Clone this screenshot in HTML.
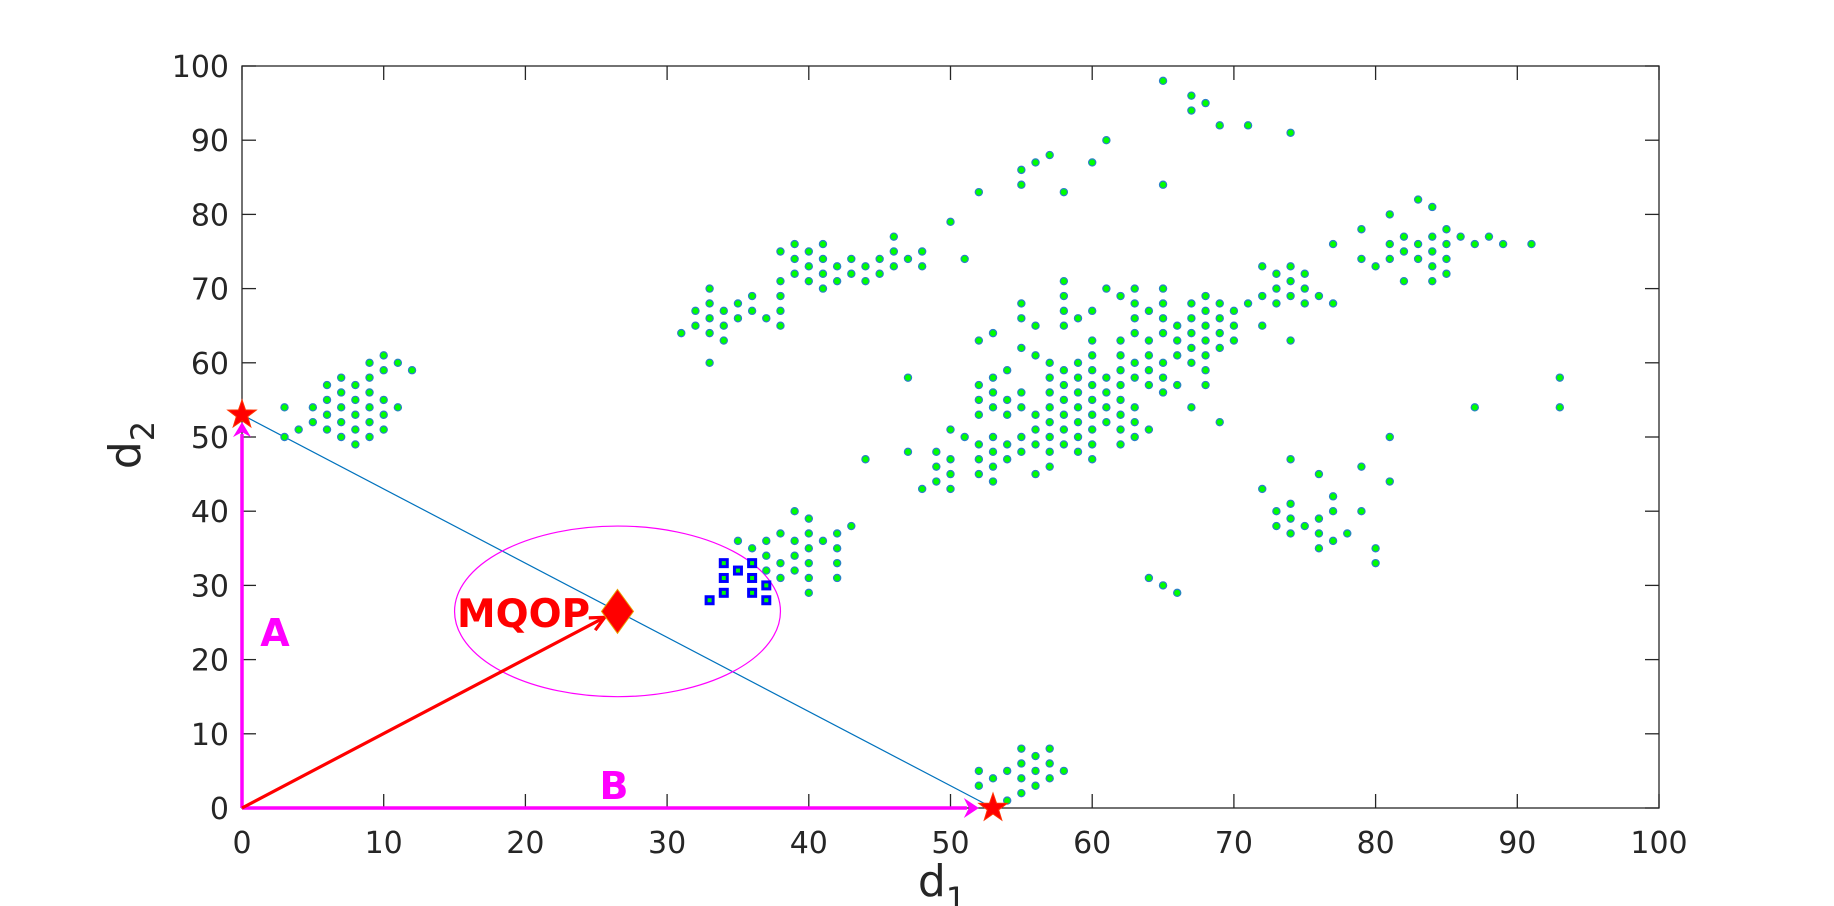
<!DOCTYPE html>
<html><head><meta charset="utf-8"><style>
html,body{margin:0;padding:0;background:#fff;}
svg{display:block;font-family:"DejaVu Sans","Liberation Sans",sans-serif;}
</style></head><body>
<svg id="chart" width="1834" height="906" viewBox="0 0 1834 906" xmlns="http://www.w3.org/2000/svg">
<rect x="0" y="0" width="1834" height="906" fill="#fff"/>
<g id="ticksG"></g>
<g id="overlayG"></g>
<g id="marksG"></g>
<g id="topG"></g>
<text x="942" y="896" font-size="44" fill="#262626" text-anchor="middle">d<tspan font-size="32" dy="14">1</tspan></text>
<text transform="translate(140,445) rotate(-90)" font-size="44" fill="#262626" text-anchor="middle">d<tspan font-size="32" dy="14">2</tspan></text>
</svg>
<script>
const xTicks = [0,10,20,30,40,50,60,70,80,90,100];
const yTicks = [0,10,20,30,40,50,60,70,80,90,100];
const greenPoints = [
[3,54],[3,50],[4,51],[5,54],[5,52],[6,57],[6,55],[6,53],[6,51],[7,58],[7,56],[7,54],[7,52],[7,50],[8,57],[8,55],[8,53],[8,51],[8,49],[9,60],[9,58],[9,56],[9,54],[9,52],[9,50],[10,61],[10,59],[10,55],[10,53],[10,51],[11,60],[11,54],[12,59],
[31,64],[32,67],[32,65],[33,70],[33,68],[33,66],[33,64],[33,60],[34,67],[34,65],[34,63],[35,68],[35,66],[36,69],[36,67],[37,66],[38,75],[38,71],[38,69],[38,67],[38,65],[39,76],[39,74],[39,72],[40,75],[40,73],[40,71],[41,76],[41,74],[41,72],[41,70],[42,73],[42,71],[43,74],[43,72],[44,73],[44,71],[45,74],[45,72],[46,77],[46,75],[46,73],[47,74],[48,75],[48,73],[50,79],[51,74],[47,58],[44,47],
[47,48],[48,43],[49,48],[49,46],[49,44],[50,51],[50,47],[50,45],[50,43],[51,50],[52,63],[52,57],[52,55],[52,53],[52,49],[52,47],[52,45],[53,64],[53,58],[53,56],[53,54],[53,50],[53,48],[53,46],[53,44],[54,59],[54,55],[54,53],[54,49],[54,47],[55,68],[55,66],[55,62],[55,56],[55,54],[55,50],[55,48],[56,65],[56,61],[56,53],[56,51],[56,49],[56,45],[57,60],[57,58],[57,56],[57,54],[57,52],[57,50],[57,48],[57,46],[58,71],[58,69],[58,67],[58,65],[58,59],[58,57],[58,55],[58,53],[58,51],[58,49],[59,66],[59,60],[59,58],[59,56],[59,54],[59,52],[59,50],[59,48],[60,67],[60,63],[60,61],[60,59],[60,57],[60,55],[60,53],[60,51],[60,49],[60,47],[61,70],[61,58],[61,56],[61,54],[61,52],
[62,69],[62,63],[62,61],[62,59],[62,57],[62,55],[62,53],[62,51],[62,49],[63,70],[63,68],[63,66],[63,64],[63,60],[63,58],[63,54],[63,52],[63,50],[64,67],[64,63],[64,61],[64,59],[64,57],[64,51],[65,70],[65,68],[65,66],[65,64],[65,60],[65,58],[65,56],[66,65],[66,63],[66,61],[66,57],[67,68],[67,66],[67,64],[67,62],[67,60],[67,54],[68,69],[68,67],[68,65],[68,63],[68,61],[68,59],[68,57],[69,68],[69,66],[69,64],[69,62],[69,52],[70,67],[70,65],[70,63],[71,68],[72,73],[72,69],[72,65],[73,72],[73,70],[73,68],[74,73],[74,71],[74,69],[74,63],[74,47],[75,72],[75,70],[75,68],[76,69],[77,68],
[77,76],[79,78],[79,74],[80,73],[81,80],[81,76],[81,74],[82,77],[82,75],[82,71],[83,82],[83,76],[83,74],[84,81],[84,77],[84,75],[84,73],[84,71],[85,78],[85,76],[85,74],[85,72],[86,77],[87,76],[87,54],[88,77],[89,76],[91,76],[93,58],[93,54],
[64,31],[65,30],[66,29],[72,43],[73,40],[73,38],[74,41],[74,39],[74,37],[75,38],[76,45],[76,39],[76,37],[76,35],[77,42],[77,40],[77,36],[78,37],[79,46],[79,40],[80,35],[80,33],[81,50],[81,44],
[35,36],[36,35],[37,36],[37,34],[37,32],[38,37],[38,33],[38,31],[39,40],[39,36],[39,34],[39,32],[40,39],[40,37],[40,35],[40,33],[40,31],[40,29],[41,36],[42,37],[42,35],[42,33],[42,31],[43,38],
[52,83],[55,86],[55,84],[56,87],[57,88],[58,83],[60,87],[61,90],[65,98],[65,84],[67,96],[67,94],[68,95],[69,92],[71,92],[74,91],
[52,5],[52,3],[53,4],[54,5],[54,1],[55,8],[55,6],[55,4],[55,2],[56,7],[56,5],[56,3],[57,8],[57,6],[57,4],[58,5]
];
const bluePoints = [[33,28],[34,33],[34,31],[34,29],[35,32],[36,33],[36,31],[36,29],[37,30],[37,28]];
const mqop = [26.5, 26.5];
const mqopRadius = 11.5;
const endA = [0, 53];
const endB = [53, 0];

const L=242, R=1659, T=66, B=808;
const sx = d => L + (R-L)*d/100;
const sy = d => B - (B-T)*d/100;
const NS='http://www.w3.org/2000/svg';
function mk(tag, attrs, parent){const e=document.createElementNS(NS,tag);for(const k in attrs)e.setAttribute(k,attrs[k]);parent.appendChild(e);return e;}
const gTicks=document.getElementById('ticksG'), gOv=document.getElementById('overlayG'), gMarks=document.getElementById('marksG'), gTop=document.getElementById('topG');

const frame = mk('rect',{x:L,y:T,width:R-L,height:B-T,fill:'none',stroke:'#262626','stroke-width':1.3},gTicks);


xTicks.forEach(v=>{
  const x=sx(v);
  const t1=mk('line',{x1:x,y1:B,x2:x,y2:B-14,stroke:'#262626','stroke-width':1.3},gTicks);
  
  
  const t2=mk('line',{x1:x,y1:T,x2:x,y2:T+14,stroke:'#262626','stroke-width':1.3},gTicks);
  
  
  const lb=mk('text',{x:x,y:853,'font-size':30,fill:'#262626','text-anchor':'middle'},gTicks);
  lb.textContent=v;
  
  
});
yTicks.forEach(v=>{
  const y=sy(v);
  const t1=mk('line',{x1:L,y1:y,x2:L+14,y2:y,stroke:'#262626','stroke-width':1.3},gTicks);
  
  
  const t2=mk('line',{x1:R,y1:y,x2:R-14,y2:y,stroke:'#262626','stroke-width':1.3},gTicks);
  
  
  const lb=mk('text',{x:229,y:y+11,'font-size':30,fill:'#262626','text-anchor':'end'},gTicks);
  lb.textContent=v;
  
  
});

const ln=mk('line',{x1:sx(endA[0]),y1:sy(endA[1]),x2:sx(endB[0]),y2:sy(endB[1]),stroke:'#0072BD','stroke-width':1.2},gOv);


const el=mk('ellipse',{cx:sx(mqop[0]),cy:sy(mqop[1]),rx:sx(mqopRadius)-sx(0),ry:sy(0)-sy(mqopRadius),fill:'none',stroke:'#ff00ff','stroke-width':1.2},gOv);



greenPoints.forEach(p=>{
  const c=mk('circle',{cx:sx(p[0]),cy:sy(p[1]),r:3.6,fill:'#00ff00',stroke:'#2a80c8','stroke-width':1.2},gMarks);
  
  
});
bluePoints.forEach(p=>{
  const r=mk('rect',{x:sx(p[0])-3.5,y:sy(p[1])-3.5,width:7,height:7,fill:'#00ff00',stroke:'#0000ff','stroke-width':3},gMarks);
  
  
});

const ox=sx(0), oy=sy(0);
const ayE=sy(endA[1]-1);
const ax=mk('line',{x1:ox,y1:oy,x2:ox,y2:ayE+12,stroke:'#ff00ff','stroke-width':3.5},gTop);


const ah=mk('polygon',{points:`${ox},${ayE} ${ox-9},${ayE+15} ${ox},${ayE+10} ${ox+9},${ayE+15}`,fill:'#ff00ff'},gTop);


const bxe=sx(endB[0]-1);
const bx=mk('line',{x1:ox,y1:oy,x2:bxe-12,y2:oy,stroke:'#ff00ff','stroke-width':3.5},gTop);


const bh=mk('polygon',{points:`${bxe},${oy} ${bxe-15},${oy-10} ${bxe-10},${oy} ${bxe-15},${oy+10}`,fill:'#ff00ff'},gTop);


const tx=sx(mqop[0]-0.9), ty=sy(mqop[1]-0.8);
const ra=mk('line',{x1:ox,y1:oy,x2:tx,y2:ty,stroke:'#ff0000','stroke-width':3.2},gTop);


const ang=Math.atan2(ty-oy,tx-ox);
const hl=16, hw=0.45;
const rh=mk('polyline',{points:`${tx-hl*Math.cos(ang-hw)},${ty-hl*Math.sin(ang-hw)} ${tx},${ty} ${tx-hl*Math.cos(ang+hw)},${ty-hl*Math.sin(ang+hw)}`,fill:'none',stroke:'#ff0000','stroke-width':3.2},gTop);


const dx=sx(mqop[0]), dy=sy(mqop[1]);
const dm=mk('polygon',{points:`${dx},${dy-22} ${dx+16},${dy} ${dx},${dy+22} ${dx-16},${dy}`,fill:'#ff0000',stroke:'#e8a000','stroke-width':1},gTop);


function star(cx,cy,ro,ri){let s='';for(let i=0;i<10;i++){const r=i%2?ri:ro;const a=-Math.PI/2+i*Math.PI/5;s+=`${cx+r*Math.cos(a)},${cy+r*Math.sin(a)} `;}return s;}
const s1=mk('polygon',{points:star(sx(endA[0]),sy(endA[1]),15,6),fill:'#ff0000',stroke:'#ff3300','stroke-width':1},gTop);


const s2=mk('polygon',{points:star(sx(endB[0]),sy(endB[1]),15,6),fill:'#ff0000',stroke:'#ff3300','stroke-width':1},gTop);


const t1=mk('text',{x:457,y:627,'font-size':39,'font-weight':'bold',fill:'#ff0000',textLength:133,lengthAdjust:'spacingAndGlyphs'},gTop);
t1.textContent='MQOP';


const t2=mk('text',{x:275,y:646,'font-size':38,'font-weight':'bold',fill:'#ff00ff','text-anchor':'middle'},gTop);
t2.textContent='A';


const t3=mk('text',{x:614,y:799,'font-size':38,'font-weight':'bold',fill:'#ff00ff','text-anchor':'middle'},gTop);
t3.textContent='B';


</script>
</body></html>
